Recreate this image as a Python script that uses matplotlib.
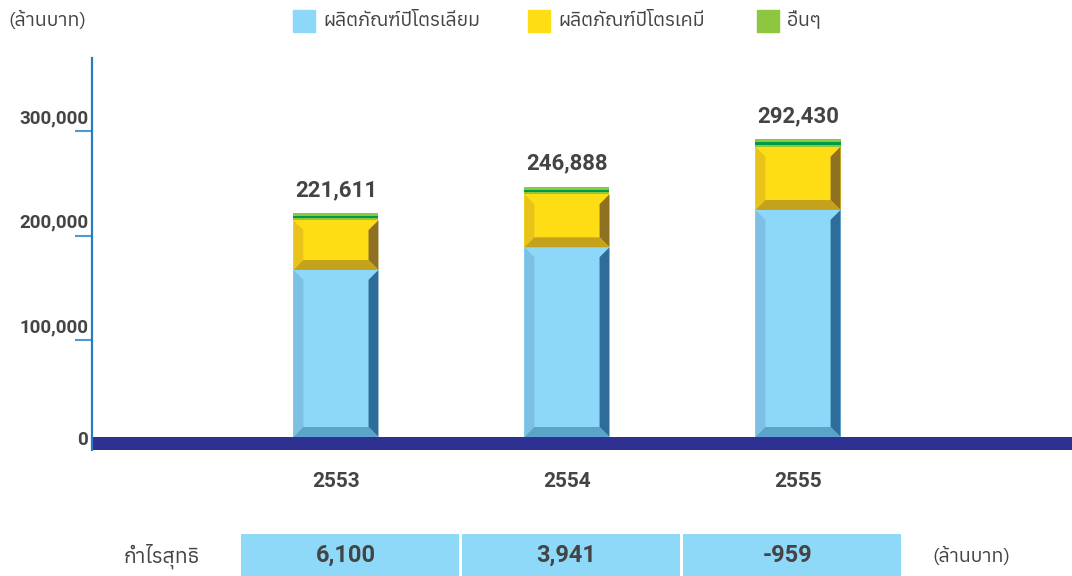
import matplotlib
matplotlib.use('Agg')
import matplotlib.pyplot as plt
import matplotlib.transforms as mtransforms
from matplotlib.patches import Polygon, Rectangle

# data (ล้านบาท)
years = ['2553', '2554', '2555']
petroleum = [167500, 189200, 224900]
petrochem = [47600, 50700, 60500]
others = [6500, 7000, 7000]
totals = [221611, 246888, 292430]
net_profit = ['6,100', '3,941', '-959']
series_names = ['ผลิตภัณฑ์ปิโตรเลียม', 'ผลิตภัณฑ์ปิโตรเคมี', 'อื่นๆ']
yticks = [100000, 200000, 300000]

thai = ['Anuphan', 'Noto Sans Thai', 'DejaVu Sans']
num = 'Roboto'
gray = '#444444'

W, H = 1072, 576
fig = plt.figure(figsize=(W / 100, H / 100), dpi=100)
ax = fig.add_axes([92 / W, 126 / H, (W - 92) / W, 392 / H])

x = list(range(len(years)))
bw = 0.368
bx = 0.043   # bevel width in x units
by = 9500    # bevel height in y units
floor = 7700  # top of the navy base band

blue = dict(face='#8DD8F8', left='#7CC0E4', right='#2E6C99', bottom='#5BA3C9')
yellow = dict(face='#FFDD15', left='#E8C41B', right='#8E7123', bottom='#C4A21C')


def bevel(xc, y0, y1, c):
    x0, x1 = xc - bw / 2, xc + bw / 2
    ax.add_patch(Polygon([(x0, y1), (x0 + bx, y1 - by), (x0 + bx, y0 + by), (x0, y0)],
                         closed=True, color=c['left'], lw=0, zorder=2))
    ax.add_patch(Polygon([(x1, y1), (x1 - bx, y1 - by), (x1 - bx, y0 + by), (x1, y0)],
                         closed=True, color=c['right'], lw=0, zorder=2))
    ax.add_patch(Polygon([(x0, y0), (x0 + bx, y0 + by), (x1 - bx, y0 + by), (x1, y0)],
                         closed=True, color=c['bottom'], lw=0, zorder=2))


ax.bar(x, petroleum, bw, color=blue['face'], lw=0, zorder=1)
ax.bar(x, petrochem, bw, bottom=petroleum, color=yellow['face'], lw=0, zorder=1)
base2 = [p + c for p, c in zip(petroleum, petrochem)]
ax.bar(x, others, bw, bottom=base2, color='#8DC63F', lw=0, zorder=1)
# darker green stripe inside the "others" segment
ax.bar(x, [o * 0.3 for o in others], bw, bottom=[b + o * 0.3 for b, o in zip(base2, others)],
       color='#009944', lw=0, zorder=2)

for i in x:
    bevel(i, floor, petroleum[i], blue)
    bevel(i, petroleum[i], base2[i], yellow)
    ax.annotate(f'{totals[i]:,}', (i, totals[i]), xytext=(0, 9), textcoords='offset points',
                ha='center', va='bottom', fontsize=16, fontweight='bold', color=gray, family=num)

ax.axhspan(-4800, floor, color='#2E3192', lw=0, zorder=3)

ax.set_xlim(-1.056, 3.186)
ax.set_ylim(-4800, 370300)
for s in ['top', 'right', 'bottom']:
    ax.spines[s].set_visible(False)
ax.spines['left'].set_color('#2A7BC2')
ax.spines['left'].set_linewidth(1.6)
ax.spines['left'].set_zorder(4)

ax.set_xticks(x, years)
ax.tick_params(axis='x', length=0, pad=16, labelsize=15, labelcolor=gray)
ax.set_yticks(yticks, [f'{v:,}' for v in yticks])
ax.tick_params(axis='y', length=12, width=1.5, color='#4C9BD6', pad=-9.5,
               labelsize=13.5, labelcolor=gray)
for lab in ax.get_xticklabels() + ax.get_yticklabels():
    lab.set_family(num)
    lab.set_fontweight('bold')
off = mtransforms.ScaledTranslation(0, 11 / 72, fig.dpi_scale_trans)
for lab in ax.get_yticklabels():
    lab.set_transform(lab.get_transform() + off)
ax.annotate('0', (0, 0), xycoords=('axes fraction', 'data'), xytext=(-3, 3.5),
            textcoords='offset points', ha='right', va='center', fontsize=13.5,
            fontweight='bold', color=gray, family=num)

# unit and legend at the top
fig.text(8 / W, 1 - 20 / H, '(ล้านบาท)', ha='left', va='center', fontsize=14,
         color=gray, family=thai)
leg_colors = ['#8DD8F8', '#FFDD15', '#8DC63F']
leg_x = [293, 528, 757]
for lx, c, name in zip(leg_x, leg_colors, series_names):
    fig.patches.append(Rectangle((lx / W, 1 - 32 / H), 22 / W, 22 / H, color=c,
                                 transform=fig.transFigure, figure=fig))
    fig.text((lx + 30) / W, 1 - 21 / H, name, ha='left', va='center', fontsize=14,
             color=gray, family=thai)

# net profit row
tab = fig.add_axes([240 / W, 0, 662 / W, 42 / H])
tab.bar(x, [1] * 3, 0.988, color='#8ED8F8', lw=0)
tab.set_xlim(-0.5, 2.5)
tab.set_ylim(0, 1)
tab.axis('off')
for i, v in enumerate(net_profit):
    tab.text(i - 0.02, 0.5, v, ha='center', va='center', fontsize=17, fontweight='bold',
             color=gray, family=num)
fig.text(162 / W, 1 - 556 / H, 'กำไรสุทธิ', ha='center', va='center', fontsize=15,
         fontweight='bold', color=gray, family=thai)
fig.text(932 / W, 1 - 556 / H, '(ล้านบาท)', ha='left', va='center', fontsize=14,
         color=gray, family=thai)

fig.savefig('out.png', dpi=100)
